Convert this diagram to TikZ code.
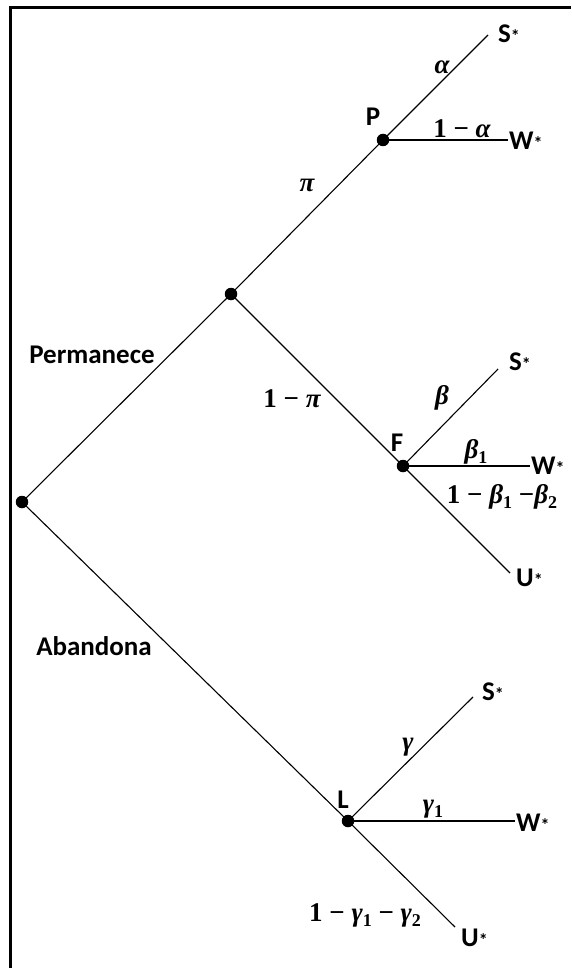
\documentclass[tikz,border=0pt]{standalone}
\usepackage{fontspec}
\setmainfont{Carlito}
\newfontfamily\probfont{Liberation Serif}
\newcommand{\mystar}{\raisebox{0.05ex}{\fontsize{18}{18}\selectfont *}}
\newcommand{\gr}[1]{{\itshape #1}}
\newcommand{\sbs}[1]{\raisebox{-0.4ex}{\fontsize{18}{18}\selectfont #1}}
\begin{document}
\begin{tikzpicture}[x=1pt,y=-1pt,
  dot/.style={circle,fill=black,inner sep=0pt,minimum size=12.5pt},
  edge/.style={line width=1.1pt},
  lbl/.style={font=\fontsize{27}{31}\selectfont\bfseries, inner sep=0pt},
  prob/.style={font=\probfont\fontsize{27}{31}\selectfont\bfseries, inner sep=0pt}]
\useasboundingbox (0,0) rectangle (571,968);
\draw[line width=3pt] (10.5,968) -- (10.5,7.5) -- (571,7.5);
% dots
\node[dot] (R) at (22,502) {};
\node[dot] (M) at (231,294) {};
\node[dot] (P) at (383,140) {};
\node[dot] (F) at (403,466) {};
\node[dot] (L) at (348,821) {};
% leaf ends
\coordinate (Sp) at (488,35);
\coordinate (Wp) at (508,140);
\coordinate (Sf) at (498,369);
\coordinate (Wf) at (530,466);
\coordinate (Uf) at (510,573);
\coordinate (Sl) at (473,697);
\coordinate (Wl) at (515,821);
\coordinate (Ul) at (455,927);
% edges
\draw[edge] (R.center) -- (M.center);
\draw[edge] (M.center) -- (P.center);
\draw[edge] (P.center) -- (Sp);
\draw[edge] (P.center) -- (Wp);
\draw[edge] (M.center) -- (F.center);
\draw[edge] (F.center) -- (Sf);
\draw[edge] (F.center) -- (Wf);
\draw[edge] (F.center) -- (Uf);
\draw[edge] (R.center) -- (L.center);
\draw[edge] (L.center) -- (Sl);
\draw[edge] (L.center) -- (Wl);
\draw[edge] (L.center) -- (Ul);
% outcome labels
\node[lbl,anchor=west] (tSp) at (498,34) {S\mystar};
\node[lbl,anchor=west] (tWp) at (509,141) {W\mystar};
\node[lbl,anchor=west] (tSf) at (509,362) {S\mystar};
\node[lbl,anchor=west] (tWf) at (531,466) {W\mystar};
\node[lbl,anchor=west] (tUf) at (516,578) {U\mystar};
\node[lbl,anchor=west] (tSl) at (482,692) {S\mystar};
\node[lbl,anchor=west] (tWl) at (516,823) {W\mystar};
\node[lbl,anchor=west] (tUl) at (461,938) {U\mystar};
% node labels
\node[lbl] (lP) at (373,117) {P};
\node[lbl] (lF) at (397,443) {F};
\node[lbl] (lL) at (343,800) {L};
\node[lbl] (perm) at (92,355) {Permanece};
\node[lbl] (aban) at (94,646) {Abandona};
% probabilities
\node[prob] (a) at (442,67) {\gr{α}};
\node[prob] (oa) at (462,129) {1 − \gr{α}};
\node[prob] (pi) at (307,185) {\gr{π}};
\node[prob] (opi) at (292,399) {1 − \gr{π}};
\node[prob] (b) at (442,398) {\gr{β}};
\node[prob] (b1) at (476,452) {\gr{β}\sbs{1}};
\node[prob] (ob) at (502,497) {1 − \gr{β}\sbs{1} −\gr{β}\sbs{2}};
\node[prob] (g) at (408,747) {\gr{γ}};
\node[prob] (g1) at (433,809) {\gr{γ}\sbs{1}};
\node[prob] (og) at (365,915) {1 − \gr{γ}\sbs{1} − \gr{γ}\sbs{2}};
\end{tikzpicture}
\end{document}
